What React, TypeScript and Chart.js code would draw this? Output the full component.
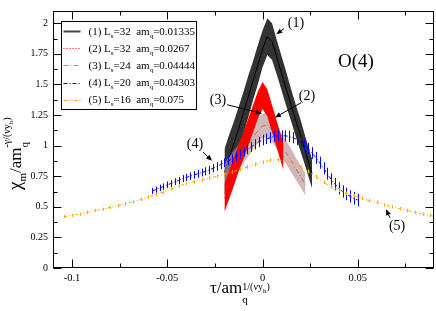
import React, { useEffect, useRef } from "react";
import { Chart, registerables } from "chart.js";

Chart.register(...registerables);

const FONT = "'Liberation Serif', 'Times New Roman', serif";

// axis ticks
const X_TICKS = [-0.1, -0.05, 0, 0.05];
const X_MINOR_TICKS = [-0.075, -0.025, 0.025, 0.075];
const Y_TICKS = [0, 0.25, 0.5, 0.75, 1, 1.25, 1.5, 1.75, 2];
const Y_MINOR_TICKS = [0.125, 0.375, 0.625, 0.875, 1.125, 1.375, 1.625, 1.875];
const X_RANGE = [-0.11, 0.09];
const Y_RANGE = [0, 2.1];

// legend
const LEGEND_IDS = ["(1)", "(2)", "(3)", "(4)", "(5)"];
const LEGEND_LS = ["32", "32", "24", "20", "16"];
const LEGEND_AMQ = ["0.01335", "0.0267", "0.04444", "0.04303", "0.075"];

// (1) Ls=32 am_q=0.01335 (band)
const BLACK_X = [-0.02, -0.0175, -0.015, -0.0125, -0.01, -0.0075, -0.005, -0.0025, 0, 0.0025, 0.005, 0.0075, 0.01, 0.0125, 0.015, 0.0175, 0.02, 0.0225, 0.025, 0.026];
const BLACK_Y = [0.78, 0.9, 1.02, 1.14, 1.27, 1.4, 1.53, 1.66, 1.79, 1.89, 1.85, 1.72, 1.59, 1.46, 1.33, 1.2, 1.08, 0.95, 0.82, 0.77];
const BLACK_ERR = [0.19, 0.19, 0.18, 0.18, 0.17, 0.17, 0.16, 0.16, 0.15, 0.15, 0.15, 0.14, 0.14, 0.14, 0.13, 0.13, 0.13, 0.12, 0.12, 0.12];

// (2) Ls=32 am_q=0.0267 (band)
const RED_X = [-0.02, -0.0175, -0.015, -0.0125, -0.01, -0.0075, -0.005, -0.0025, 0, 0.0025, 0.005, 0.0075, 0.01, 0.011];
const RED_Y = [0.57, 0.68, 0.79, 0.9, 1.0, 1.11, 1.22, 1.33, 1.41, 1.35, 1.22, 1.09, 0.96, 0.91];
const RED_ERR = [0.115, 0.115, 0.115, 0.11, 0.11, 0.11, 0.11, 0.11, 0.11, 0.11, 0.11, 0.11, 0.11, 0.11];

// (3) Ls=24 am_q=0.04444 (band)
const PINK_X = [-0.02, -0.0175, -0.015, -0.0125, -0.01, -0.0075, -0.005, -0.0025, 0, 0.0025, 0.005, 0.0075, 0.01, 0.0125, 0.015, 0.0175, 0.02, 0.0225];
const PINK_Y = [0.76, 0.81, 0.86, 0.91, 0.96, 1.01, 1.07, 1.12, 1.16, 1.17, 1.13, 1.07, 1.0, 0.94, 0.88, 0.81, 0.75, 0.68];
const PINK_ERR = [0.1, 0.1, 0.1, 0.1, 0.1, 0.1, 0.1, 0.1, 0.1, 0.1, 0.1, 0.1, 0.095, 0.095, 0.095, 0.09, 0.09, 0.09];

// (4) Ls=20 am_q=0.04303
const BLUE_X = [-0.058, -0.056, -0.054, -0.052, -0.05, -0.048, -0.046, -0.044, -0.042, -0.04, -0.038, -0.036, -0.034, -0.032, -0.03, -0.028, -0.026, -0.024, -0.022, -0.02, -0.018, -0.016, -0.014, -0.012, -0.01, -0.008, -0.006, -0.004, -0.002, 0, 0.002, 0.004, 0.006, 0.008, 0.01, 0.012, 0.014, 0.016, 0.018, 0.02, 0.022, 0.024, 0.026, 0.028, 0.03, 0.032, 0.034, 0.036, 0.038, 0.04, 0.042, 0.044, 0.046, 0.048, 0.05];
const BLUE_Y = [0.63, 0.64, 0.655, 0.665, 0.68, 0.69, 0.705, 0.715, 0.73, 0.74, 0.75, 0.76, 0.77, 0.78, 0.79, 0.8, 0.815, 0.83, 0.845, 0.86, 0.875, 0.89, 0.91, 0.93, 0.95, 0.97, 0.99, 1.01, 1.03, 1.045, 1.055, 1.065, 1.075, 1.08, 1.08, 1.08, 1.075, 1.065, 1.05, 1.03, 1.005, 0.975, 0.94, 0.9, 0.86, 0.815, 0.77, 0.725, 0.685, 0.65, 0.625, 0.605, 0.585, 0.57, 0.555];
const BLUE_ERR = [0.025, 0.025, 0.026, 0.026, 0.027, 0.027, 0.028, 0.028, 0.029, 0.03, 0.03, 0.031, 0.032, 0.032, 0.033, 0.034, 0.034, 0.035, 0.036, 0.036, 0.037, 0.038, 0.038, 0.039, 0.04, 0.04, 0.041, 0.042, 0.042, 0.043, 0.043, 0.044, 0.044, 0.045, 0.045, 0.045, 0.046, 0.046, 0.046, 0.047, 0.047, 0.047, 0.048, 0.048, 0.048, 0.049, 0.049, 0.049, 0.05, 0.05, 0.05, 0.051, 0.051, 0.052, 0.052];

// (5) Ls=16 am_q=0.075
const ORANGE_X = [-0.104, -0.1, -0.096, -0.092, -0.088, -0.084, -0.08, -0.076, -0.072, -0.068, -0.064, -0.06, -0.056, -0.052, -0.048, -0.044, -0.04, -0.036, -0.032, -0.028, -0.024, -0.02, -0.016, -0.012, -0.008, -0.004, 0, 0.004, 0.008, 0.012, 0.016, 0.02, 0.024, 0.028, 0.032, 0.036, 0.04, 0.044, 0.048, 0.052, 0.056, 0.06, 0.064, 0.068, 0.072, 0.076, 0.08, 0.084, 0.088, 0.092];
const ORANGE_Y = [0.42, 0.43, 0.44, 0.455, 0.47, 0.48, 0.495, 0.51, 0.525, 0.54, 0.56, 0.58, 0.6, 0.62, 0.645, 0.67, 0.69, 0.705, 0.72, 0.735, 0.75, 0.765, 0.785, 0.805, 0.825, 0.845, 0.865, 0.88, 0.885, 0.875, 0.855, 0.825, 0.79, 0.745, 0.7, 0.665, 0.635, 0.61, 0.59, 0.57, 0.55, 0.535, 0.515, 0.5, 0.485, 0.47, 0.455, 0.44, 0.43, 0.415];
const ORANGE_ERR = [0.013, 0.013, 0.013, 0.013, 0.013, 0.013, 0.013, 0.013, 0.013, 0.013, 0.014, 0.014, 0.014, 0.014, 0.014, 0.014, 0.014, 0.014, 0.014, 0.014, 0.015, 0.015, 0.015, 0.015, 0.015, 0.015, 0.015, 0.015, 0.015, 0.015, 0.015, 0.015, 0.015, 0.015, 0.015, 0.015, 0.015, 0.015, 0.015, 0.015, 0.014, 0.014, 0.014, 0.014, 0.014, 0.014, 0.014, 0.014, 0.014, 0.014];

// annotations in data units
const ANNOT_LABELS = ["(1)", "(2)", "(3)", "(4)", "(5)"];
const ANNOT_TEXT_X = [0.0175, 0.0233, -0.0234, -0.0355, 0.0706];
const ANNOT_TEXT_Y = [2.0, 1.405, 1.366, 1.01, 0.339];
const ANNOT_FROM_X = [0.0112, 0.0202, -0.0186, -0.0313, 0.0669];
const ANNOT_FROM_Y = [1.955, 1.35, 1.334, 0.947, 0.41];
const ANNOT_TO_X = [0.0072, 0.0065, -0.0003, -0.0265, 0.0648];
const ANNOT_TO_Y = [1.91, 1.23, 1.263, 0.876, 0.48];
const MODEL_LABEL = "O(4)";
const MODEL_LABEL_X = 0.0396;
const MODEL_LABEL_Y = 1.64;

const pts = (xs: number[], ys: number[], es?: number[], sign = 0) =>
  xs.map((x, i) => ({ x, y: ys[i] + sign * (es ? es[i] : 0) }));

type Seg = { t: string; size: number; dy: number; stack?: boolean };

function drawRich(ctx: CanvasRenderingContext2D, x: number, y: number, segs: Seg[]) {
  let cx = x;
  let prevStart = x;
  for (const s of segs) {
    ctx.font = `${s.size}px ${FONT}`;
    const start = s.stack ? prevStart : cx;
    ctx.fillText(s.t, start, y + s.dy);
    const end = start + ctx.measureText(s.t).width;
    if (s.stack) {
      cx = Math.max(cx, end);
    } else {
      prevStart = start;
      cx = end;
    }
  }
  return cx;
}

function arrow(ctx: CanvasRenderingContext2D, x1: number, y1: number, x2: number, y2: number) {
  const ang = Math.atan2(y2 - y1, x2 - x1);
  const hl = 6;
  const hw = 2.5;
  const bx = x2 - hl * Math.cos(ang);
  const by = y2 - hl * Math.sin(ang);
  ctx.beginPath();
  ctx.moveTo(x1, y1);
  ctx.lineTo(bx, by);
  ctx.stroke();
  ctx.beginPath();
  ctx.moveTo(x2, y2);
  ctx.lineTo(bx + hw * Math.sin(ang), by - hw * Math.cos(ang));
  ctx.lineTo(bx - hw * Math.sin(ang), by + hw * Math.cos(ang));
  ctx.closePath();
  ctx.fill();
}

const errorBarPlugin = {
  id: "errorBars",
  afterDatasetDraw(chart: any, args: any) {
    const ds = chart.data.datasets[args.index];
    if (!ds.errors) return;
    const { ctx, chartArea } = chart;
    const xs = chart.scales.x;
    const ys = chart.scales.y;
    ctx.save();
    ctx.beginPath();
    ctx.rect(chartArea.left, chartArea.top, chartArea.right - chartArea.left, chartArea.bottom - chartArea.top);
    ctx.clip();
    ctx.strokeStyle = ds.borderColor;
    ctx.lineWidth = 1;
    ctx.setLineDash([]);
    ds.data.forEach((p: any, i: number) => {
      const px = Math.round(xs.getPixelForValue(p.x)) + 0.5;
      const e = ds.errors[i];
      ctx.beginPath();
      ctx.moveTo(px, ys.getPixelForValue(p.y + e));
      ctx.lineTo(px, ys.getPixelForValue(p.y - e));
      ctx.stroke();
    });
    ctx.restore();
  },
};

const decorPlugin = {
  id: "decor",
  afterDraw(chart: any) {
    const { ctx, chartArea } = chart;
    const { left, right, top, bottom } = chartArea;
    const xs = chart.scales.x;
    const ys = chart.scales.y;
    ctx.save();
    ctx.strokeStyle = "#000";
    ctx.fillStyle = "#000";
    ctx.lineWidth = 1;
    ctx.setLineDash([]);
    const L = Math.round(left) + 0.5;
    const R = Math.round(right) - 0.5;
    const T = Math.round(top) + 0.5;
    const B = Math.round(bottom) - 0.5;
    ctx.strokeRect(L, T, R - L, B - T);
    const tickX = (v: number, len: number) => {
      const px = Math.round(xs.getPixelForValue(v)) + 0.5;
      ctx.beginPath();
      ctx.moveTo(px, B);
      ctx.lineTo(px, B - len);
      ctx.moveTo(px, T);
      ctx.lineTo(px, T + len);
      ctx.stroke();
    };
    const tickY = (v: number, len: number) => {
      const py = Math.round(ys.getPixelForValue(v)) + 0.5;
      ctx.beginPath();
      ctx.moveTo(L, py);
      ctx.lineTo(L + len, py);
      ctx.moveTo(R, py);
      ctx.lineTo(R - len, py);
      ctx.stroke();
    };
    X_TICKS.forEach((v) => tickX(v, 8));
    X_MINOR_TICKS.forEach((v) => tickX(v, 4));
    Y_TICKS.forEach((v) => tickY(v, 8));
    Y_MINOR_TICKS.forEach((v) => tickY(v, 4));

    // axis titles
    ctx.fillStyle = "#000";
    ctx.textBaseline = "alphabetic";
    ctx.textAlign = "left";
    drawRich(ctx, 210, 293, [
      { t: "τ/am", size: 17, dy: 0 },
      { t: "q", size: 11, dy: 10 },
      { t: "1/(νy", size: 10, dy: -3, stack: true },
      { t: "h", size: 7, dy: 0 },
      { t: ")", size: 10, dy: -3 },
    ]);
    ctx.save();
    ctx.translate(21, 190);
    ctx.rotate(-Math.PI / 2);
    drawRich(ctx, 0, 0, [
      { t: "χ", size: 19, dy: 0 },
      { t: "m", size: 11, dy: 5 },
      { t: "/am", size: 17, dy: 0 },
      { t: "q", size: 11, dy: 7 },
      { t: "-γ/(νy", size: 10, dy: -11, stack: true },
      { t: "h", size: 7, dy: -8 },
      { t: ")", size: 10, dy: -11 },
    ]);
    ctx.restore();

    // model label
    ctx.font = `19px ${FONT}`;
    ctx.fillText(MODEL_LABEL, xs.getPixelForValue(MODEL_LABEL_X), ys.getPixelForValue(MODEL_LABEL_Y));

    // annotations
    ctx.font = `14px ${FONT}`;
    ctx.textAlign = "center";
    ctx.textBaseline = "middle";
    ANNOT_LABELS.forEach((lab, i) => {
      ctx.fillText(lab, xs.getPixelForValue(ANNOT_TEXT_X[i]), ys.getPixelForValue(ANNOT_TEXT_Y[i]));
      arrow(
        ctx,
        xs.getPixelForValue(ANNOT_FROM_X[i]),
        ys.getPixelForValue(ANNOT_FROM_Y[i]),
        xs.getPixelForValue(ANNOT_TO_X[i]),
        ys.getPixelForValue(ANNOT_TO_Y[i])
      );
    });

    // legend
    const bx = Math.round(left) + 8.5;
    const by = Math.round(top) + 10.5;
    ctx.fillStyle = "#fff";
    ctx.fillRect(bx, by, 135, 88);
    ctx.strokeStyle = "#000";
    ctx.strokeRect(bx, by, 135, 88);
    const styles = [
      { c: "#444", d: [] as number[], w: 2 },
      { c: "#ff0000", d: [1, 2], w: 1 },
      { c: "#bc8f8f", d: [5, 2, 1, 2], w: 1 },
      { c: "#0000ff", d: [4, 2, 1, 2], w: 1 },
      { c: "#ffa500", d: [3, 2, 1, 2, 1, 2], w: 1 },
    ];
    ctx.textAlign = "left";
    ctx.textBaseline = "alphabetic";
    LEGEND_IDS.forEach((id, i) => {
      const base = by + 13 + i * 17.2;
      const ly = Math.round(base - 3.5) + 0.5;
      ctx.strokeStyle = styles[i].c;
      ctx.lineWidth = styles[i].w;
      ctx.setLineDash(styles[i].d);
      ctx.beginPath();
      ctx.moveTo(bx + 2, ly);
      ctx.lineTo(bx + 19, ly);
      ctx.stroke();
      ctx.setLineDash([]);
      ctx.fillStyle = "#000";
      drawRich(ctx, bx + 27, base, [
        { t: `${id} L`, size: 11, dy: 0 },
        { t: "s", size: 7, dy: 3 },
        { t: `=${LEGEND_LS[i]}  am`, size: 11, dy: 0 },
        { t: "q", size: 7, dy: 3 },
        { t: `=${LEGEND_AMQ[i]}`, size: 11, dy: 0 },
      ]);
    });
    ctx.restore();
  },
};

export default function App() {
  const ref = useRef<HTMLCanvasElement>(null);
  useEffect(() => {
    const canvas = ref.current!;
    const line = (extra: any) => ({
      pointRadius: 0,
      pointHoverRadius: 0,
      tension: 0,
      fill: false,
      borderWidth: 1,
      ...extra,
    });
    const datasets: any[] = [
      // black band (bottom)
      line({ data: pts(BLACK_X, BLACK_Y, BLACK_ERR, -1), borderWidth: 0, borderColor: "rgba(0,0,0,0)", order: 60 }),
      line({ data: pts(BLACK_X, BLACK_Y, BLACK_ERR, 1), borderWidth: 0, borderColor: "rgba(0,0,0,0)", backgroundColor: "#333333", fill: "-1", order: 60 }),
      line({ data: pts(BLACK_X, BLACK_Y), borderColor: "#000", order: 59 }),
      // pink band
      line({ data: pts(PINK_X, PINK_Y, PINK_ERR, -1), borderWidth: 0, borderColor: "rgba(0,0,0,0)", order: 50 }),
      line({ data: pts(PINK_X, PINK_Y, PINK_ERR, 1), borderWidth: 0, borderColor: "rgba(0,0,0,0)", backgroundColor: "rgba(188,143,143,0.65)", fill: "-1", order: 50 }),
      line({ data: pts(PINK_X, PINK_Y), borderColor: "#a07070", borderDash: [5, 2, 1, 2], order: 49 }),
      // red band
      line({ data: pts(RED_X, RED_Y, RED_ERR, -1), borderWidth: 0, borderColor: "rgba(0,0,0,0)", order: 40 }),
      line({ data: pts(RED_X, RED_Y, RED_ERR, 1), borderWidth: 0, borderColor: "rgba(0,0,0,0)", backgroundColor: "#ff0000", fill: "-1", order: 40 }),
      line({ data: pts(RED_X, RED_Y), borderColor: "#ff0000", borderDash: [1, 2], order: 39 }),
      // blue
      line({ data: pts(BLUE_X, BLUE_Y), borderColor: "#0000ff", borderDash: [4, 2, 1, 2], errors: BLUE_ERR, order: 20 }),
      // orange
      line({ data: pts(ORANGE_X, ORANGE_Y), borderColor: "#ffa500", borderDash: [3, 2, 1, 2, 1, 2], errors: ORANGE_ERR, order: 10 }),
    ];
    const chart = new Chart(canvas, {
      type: "line",
      data: { datasets },
      options: {
        animation: false,
        responsive: false,
        devicePixelRatio: 1,
        events: [],
        layout: { padding: { top: 2, right: 2, left: 0, bottom: 0 } },
        plugins: { legend: { display: false }, tooltip: { enabled: false } },
        scales: {
          x: {
            type: "linear",
            min: X_RANGE[0],
            max: X_RANGE[1],
            grid: { display: false, drawTicks: false },
            border: { display: false },
            ticks: {
              padding: 4,
              maxRotation: 0,
              autoSkip: false,
              color: "#000",
              font: { family: FONT, size: 10.5 },
              callback: (v: any) => String(Math.round(Number(v) * 1000) / 1000),
            },
            afterBuildTicks: (s: any) => {
              s.ticks = X_TICKS.map((value) => ({ value }));
            },
            afterFit: (s: any) => {
              s.height = 43;
            },
          },
          y: {
            type: "linear",
            min: Y_RANGE[0],
            max: Y_RANGE[1],
            grid: { display: false, drawTicks: false },
            border: { display: false },
            ticks: {
              padding: 5,
              autoSkip: false,
              color: "#000",
              font: { family: FONT, size: 10 },
              callback: (v: any) => String(Math.round(Number(v) * 1000) / 1000),
            },
            afterBuildTicks: (s: any) => {
              s.ticks = Y_TICKS.map((value) => ({ value }));
            },
            afterFit: (s: any) => {
              s.width = 53;
            },
          },
        },
      } as any,
      plugins: [errorBarPlugin, decorPlugin],
    });
    return () => chart.destroy();
  }, []);
  return (
    <canvas
      ref={ref}
      width={436}
      height={311}
      style={{ position: "absolute", left: 0, top: 0, display: "block", width: 436, height: 311 }}
    />
  );
}
